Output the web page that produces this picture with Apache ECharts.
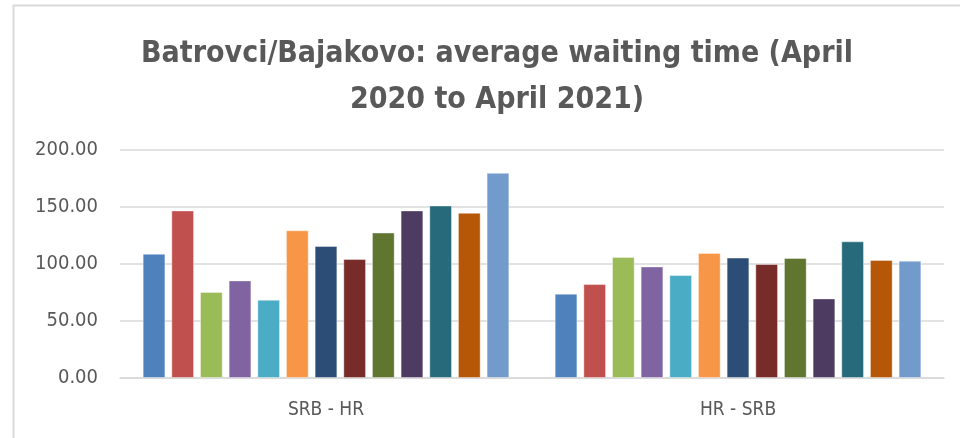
<!DOCTYPE html>
<html>
<head>
<meta charset="utf-8">
<script src="https://cdn.jsdelivr.net/npm/echarts@6/dist/echarts.min.js"></script>
<style>
    html, body { margin: 0; padding: 0; background: #fff; }
    #js-bar { width: 960px; height: 438px; }
</style>
</head>
<body>
<div id="js-bar"></div>
<script>
/*data*/
var categories = ['SRB - HR', 'HR - SRB'];
var months = ['April 2020', 'May 2020', 'June 2020', 'July 2020', 'August 2020', 'September 2020',
    'October 2020', 'November 2020', 'December 2020', 'January 2021', 'February 2021', 'March 2021', 'April 2021'];
var srbHr = [109, 147, 75.5, 85.6, 68.7, 129.6, 115.8, 104.4, 127.6, 147, 151.3, 144.9, 180];
var hrSrb = [74, 82.4, 106.2, 97.9, 90.3, 109.7, 105.6, 100, 105.3, 69.8, 119.9, 103.5, 102.9];
var colors = ['#4F81BD', '#C0504D', '#9BBB59', '#8064A2', '#4BACC6', '#F79646',
    '#2C4D75', '#772C2A', '#5F7530', '#4D3B62', '#276A7C', '#B65708', '#729ACA'];

var font = "'DejaVu Sans Condensed', 'Liberation Sans Narrow', sans-serif";

var series = months.map(function (m, i) {
    return {
        name: m,
        type: 'bar',
        data: [srbHr[i], hrSrb[i]],
        barGap: '26%',
        barCategoryGap: '11%',
        itemStyle: {
            color: colors[i],
            borderColor: 'rgba(255,255,255,0.4)',
            borderWidth: 1
        }
    };
});

var barChart = echarts.init(document.getElementById('js-bar'));
var barOption = {
    animation: false,
    title: {
        text: 'Batrovci/Bajakovo: average waiting time (April\n2020 to April 2021)',
        left: 492,
        top: 26,
        textAlign: 'center',
        textStyle: {
            fontFamily: font,
            fontWeight: 'bold',
            fontSize: 30,
            lineHeight: 46,
            color: '#595959'
        }
    },
    grid: {
        left: 120,
        right: 16,
        top: 150,
        bottom: 60
    },
    xAxis: {
        type: 'category',
        data: categories,
        axisTick: { show: false },
        axisLine: { lineStyle: { color: '#d9d9d9', width: 1.5 } },
        axisLabel: {
            margin: 23,
            fontFamily: font,
            fontSize: 19,
            color: '#595959'
        }
    },
    yAxis: {
        type: 'value',
        min: 0,
        max: 200,
        interval: 50,
        axisLine: { show: false },
        axisTick: { show: false },
        splitLine: { lineStyle: { color: '#d9d9d9', width: 1.5 } },
        axisLabel: {
            margin: 22,
            fontFamily: font,
            fontSize: 20,
            color: '#595959',
            formatter: function (v) { return v.toFixed(2); }
        }
    },
    graphic: [{
        type: 'polyline',
        shape: { points: [[13.5, 438], [13.5, 5.5], [960, 5.5]] },
        style: { stroke: '#d9d9d9', lineWidth: 2, fill: null }
    }],
    series: series
};
barChart.setOption(barOption);
</script>
</body>
</html>
